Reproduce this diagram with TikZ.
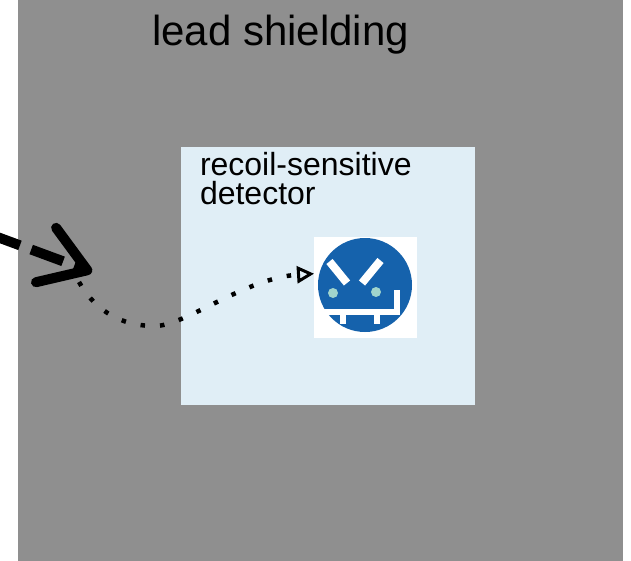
\documentclass[tikz,border=0pt]{standalone}
\usepackage{fontspec}
\setmainfont{Liberation Sans}
\usetikzlibrary{arrows.meta}

\definecolor{leadgray}{RGB}{143,143,143}
\definecolor{detblue}{RGB}{224,238,246}
\definecolor{feltblue}{RGB}{21,98,172}
\definecolor{eyegreen}{RGB}{160,212,204}

\begin{document}
\begin{tikzpicture}[x=1pt, y=-1pt,
    box/.style={inner sep=0pt, outer sep=0pt},
    shot/.style={line width=10pt, dash pattern=on 34pt off 12pt, dash phase=37.4pt,
        -{Straight Barb[length=44pt,width=58pt,round]}},
    recoil/.style={line width=4.5pt, dash pattern=on 4.5pt off 15pt,
        -{Triangle[open,length=17pt,width=17pt,line width=3pt]}},
    felt/.style={white, line width=#1}]

    \useasboundingbox (0,0) rectangle (631,561);

    \node[box, fill=leadgray, minimum width=605pt, minimum height=561pt] (shield) at (320.5,280.5) {};
    \node[box, fill=detblue, minimum width=294pt, minimum height=258pt] (detector) at (328,276) {};

    \node[box, anchor=base west, font=\fontsize{42}{50}\selectfont] (title) at (152,46) {lead shielding};
    \node[box, anchor=base west, align=left, font=\fontsize{32}{29}\selectfont] (label) at (200,205) {recoil-sensitive\\detector};

    % the felt target
    \node[box, fill=white, minimum width=103pt, minimum height=101pt] (face) at (365.5,287.5) {};
    \begin{scope}[shift={(face.center)}]
        \fill[feltblue] (-0.5,-2.5) circle (47);
        \draw[felt=8pt] (-36,-26) -- (-18.5,-4.5);
        \draw[felt=8pt] (15,-27) -- (-3.5,-4.5);
        \fill[eyegreen] (-32.5,5.5) circle (5) (10.5,4.5) circle (5);
        \draw[felt=6pt] (-42.5,24.5) -- (31.5,24.5) -- (31.5,2.5);
        \draw[felt=6pt] (-22.5,24.5) -- (-22.5,36.5) (11.5,24.5) -- (11.5,36.5);
    \end{scope}

    \coordinate (source) at (-20,230.6);
    \coordinate (hit) at (92,272);
    \coordinate (scatter) at (79,282);

    \draw[shot] (source) -- (hit);
    \draw[recoil] (scatter) .. controls (92,305) and (115,326) .. (155,326)
        .. controls (185,326) and (245,278) .. (face.165);

\end{tikzpicture}
\end{document}
